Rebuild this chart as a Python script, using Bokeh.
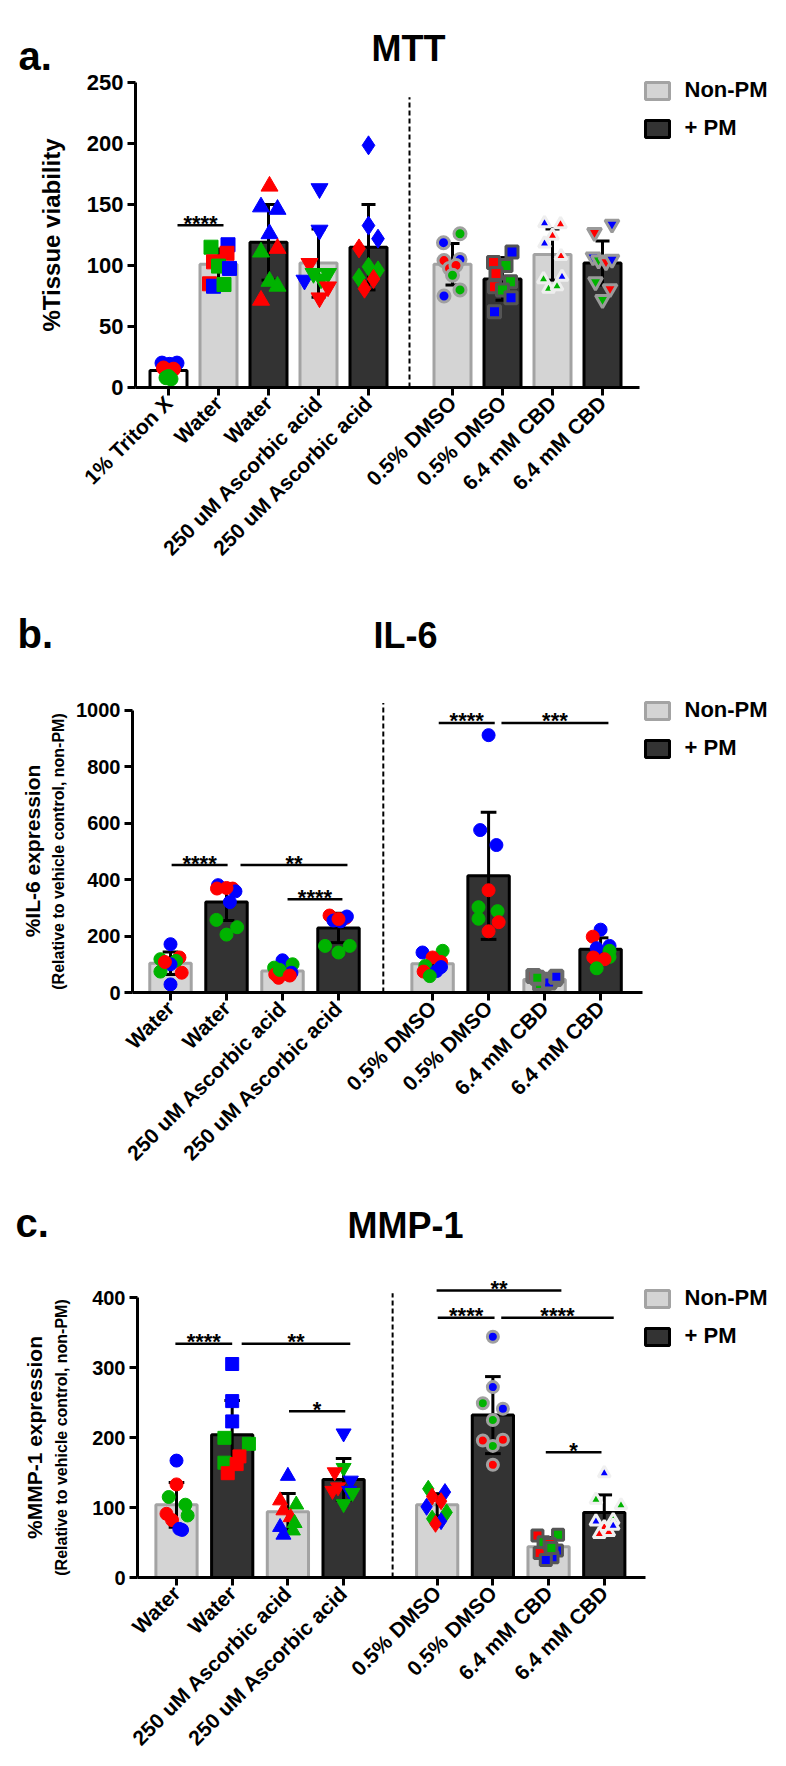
from math import pi
from bokeh.plotting import figure
from bokeh.models import (ColumnDataSource, FixedTicker, Label, Legend, LegendItem, Range1d)
from bokeh.layouts import column
from bokeh.embed import file_html
from bokeh.resources import INLINE
from bokeh.core.properties import value

FONT = "Liberation Sans"

# ====================== DATA ======================
# ---- Panel a: MTT (% tissue viability) ----
A_LABELS = ["1% Triton X", "Water", "Water", "250 uM Ascorbic acid", "250 uM Ascorbic acid",
            "0.5% DMSO", "0.5% DMSO", "6.4 mM CBD", "6.4 mM CBD"]
A_MEAN = [14, 101, 119, 102, 115, 101, 89, 109, 102]
A_SD = [5, 12.5, 31, 28, 35, 17, 17.5, 21, 18]
A_VALUES = [
    [20, 20, 19, 16, 15, 14, 9, 8, 7],
    [115, 103, 117, 110, 99.5, 97.6, 85, 83, 84.4],
    [165, 148, 146, 126, 114, 111, 87, 83, 71.5],
    [163, 129, 101.7, 88, 93.5, 93.5, 89, 82.5, 73.5],
    [198.5, 132.7, 122, 114, 99, 96, 90, 89, 81],
    [126, 118.7, 104, 105, 97.6, 100, 92, 80, 75],
    [111, 102.5, 100, 93.5, 86.6, 82.5, 80, 73.5, 62],
    [134.6, 133.8, 124.4, 118, 107.7, 88.8, 90.7, 81, 83],
    [133.8, 127, 107, 104.4, 103, 105, 86.6, 81, 72],
]
A_DONOR = ["bbbrrrggg", "grbrgbrbg", "rbbbrgggr", "bbrbgggrr", "bbbrgggrr",
           "gbrbrrggb", "brgrgrgbb", "brrbrgbgg", "brbgrbgrg"]
A_SIG = [(0.18, 1.10, 133, "****")]

# ---- Panel b: IL-6 ----
B_LABELS = ["Water", "Water", "250 uM Ascorbic acid", "250 uM Ascorbic acid",
            "0.5% DMSO", "0.5% DMSO", "6.4 mM CBD", "6.4 mM CBD"]
B_MEAN = [103.5, 320, 76, 228.5, 102, 413, 46, 153.5]
B_SD = [40, 65, 17, 52, 30, 225, 12, 40]
B_VALUES = [
    [171, 124, 118, 112, 100, 70, 74, 28.6, 108],
    [380, 368, 368, 358, 320, 257, 231, 205, 370],
    [114, 100, 88, 70, 64, 64, 52, 80, 60],
    [272.5, 264, 269, 254.7, 252, 165, 165, 141.6, 260],
    [147.6, 141.6, 124, 108, 94, 90, 74, 76, 58],
    [911, 575, 522, 362, 302, 288, 261, 249, 216.6],
    [58, 40, 25, 45, 30, 48, 35, 52, 56],
    [222.5, 197.5, 165, 157, 147.6, 126, 124, 118, 85.7],
]
B_DONOR = ["brggbrgbr", "brrbbgggr", "bggbrbrgr", "rrbbbgggr",
           "gbrrgbrbg", "bbbrgggrr", "rrrggbbgb", "brbbggrrg"]
B_SIG = [(0.02, 1.02, 451, "****"), (1.25, 3.16, 451, "**"), (2.09, 3.07, 330, "****"),
         (4.79, 5.79, 954, "****"), (5.91, 7.82, 954, "***")]

# ---- Panel c: MMP-1 ----
C_LABELS = B_LABELS
C_MEAN = [103.8, 204, 94, 140, 103.8, 232, 44, 93]
C_SD = [32, 49, 26, 30, 16, 55, 13, 25]
C_VALUES = [
    [167, 133, 115, 104, 88.6, 91, 82, 69.5, 68],
    [305, 252, 223, 199.5, 191, 173, 164, 162, 149],
    [145, 110, 104, 95.7, 86, 77.6, 72, 67, 61],
    [206, 156.7, 150.5, 138.6, 129, 124, 124, 121, 105],
    [126.7, 122, 115.7, 109, 101, 93, 84, 80.5, 76.7],
    [344, 272, 249, 241, 225, 195.7, 196.7, 188, 161],
    [61, 60, 50.5, 35, 38.6, 29, 48, 42, 25],
    [149, 111, 103, 80, 82, 72, 65, 74, 62],
]
C_DONOR = ["brgggrrbb", "bbbggrgrr", "brgrrgbgb", "bgrbrrbgg",
           "gbrrbggbr", "bbgbgrrgr", "grgrbbrgb", "bggbgrrbr"]
C_SIG = [(-0.02, 1.0, 334, "****"), (1.17, 3.12, 334, "**"), (2.02, 3.03, 237.6, "*"),
         (4.69, 5.71, 371, "****"), (5.83, 7.85, 371, "****"), (4.67, 6.91, 410, "**"),
         (6.63, 7.63, 179, "*")]

# ====================== STYLE / LAYOUT ======================
S = 25          # units per bar slot
GAP = 42        # distance between last left bar and first right bar
COLORS = {"r": "#ff0000", "g": "#00b300", "b": "#0000ff"}
BAR_STYLE = {
    "triton": dict(fill_color="#ffffff", line_color="#000000"),
    "light": dict(fill_color="#d4d4d4", line_color="#a3a3a3"),
    "dark": dict(fill_color="#333333", line_color="#000000"),
}
# horizontal jitter of the points (in bar slots)
A_JIT = [
    [-0.13, 0.17, 0.02, -0.1, 0.1, 0, 0, -0.05, 0.05],
    [-0.15, -0.1, 0.19, 0.17, 0, 0.22, -0.18, -0.1, 0.11],
    [0.02, -0.15, 0.18, 0.02, 0.18, -0.15, 0.02, 0.18, -0.15],
    [0.02, 0.02, -0.18, -0.28, -0.1, 0.19, 0.05, 0.19, 0.02],
    [0, 0, 0.19, -0.19, 0, 0.19, -0.19, 0.1, -0.08],
    [0.15, -0.18, -0.17, 0.15, -0.06, 0.07, 0, 0.15, -0.17],
    [0.19, -0.18, 0.07, -0.13, 0.16, -0.16, 0, 0.17, -0.16],
    [-0.16, 0.16, 0, -0.16, 0.17, -0.18, 0.19, -0.08, 0.09],
    [0.19, -0.16, -0.19, -0.08, 0.07, 0.19, -0.14, 0.15, 0],
]
B_JIT = [
    [0, 0.16, -0.18, 0.1, 0, 0.2, -0.18, 0, -0.1],
    [-0.15, -0.17, 0.11, 0.16, 0.06, -0.18, 0.19, 0, 0],
    [0, 0.18, -0.15, 0.16, -0.13, 0.1, -0.07, -0.05, 0.13],
    [-0.16, 0.13, 0.15, -0.09, 0.04, -0.24, 0.2, 0, 0],
    [0.18, -0.18, 0, 0.15, -0.13, 0.15, -0.16, 0.07, -0.05],
    [0, -0.15, 0.14, 0, -0.18, 0.16, -0.18, 0.18, 0],
    [-0.2, 0.05, -0.02, 0.12, -0.08, 0.18, 0.08, -0.13, 0.21],
    [0, -0.14, 0.16, -0.07, 0.16, 0.16, -0.13, 0.07, -0.07],
]
C_JIT = [
    [0, 0, -0.14, 0.16, 0.2, -0.18, -0.08, 0.05, 0.1],
    [0, 0, 0, -0.14, 0.3, 0.13, -0.14, 0.08, -0.08],
    [0, -0.14, 0.15, -0.08, 0.05, 0.12, -0.14, 0.09, -0.08],
    [0, 0, -0.16, 0.13, -0.1, -0.2, 0.1, 0.16, 0],
    [-0.16, 0.14, -0.09, 0.07, -0.19, 0.17, -0.09, 0.07, -0.03],
    [0, 0, -0.18, 0.18, 0, -0.18, 0.18, 0, 0],
    [0.17, -0.2, -0.09, -0.16, 0.15, 0.07, 0.02, 0.05, -0.05],
    [0, -0.15, 0.3, -0.15, 0.16, 0, 0.08, 0.16, -0.09],
]
# (marker, size, outline colour, outline width)
A_MARK = [("circle", 14, None, 0), ("square", 14, None, 0), ("triangle", 17, None, 0),
          ("inverted_triangle", 17, None, 0), ("diamond", 19, None, 0),
          ("circle", 12, "#a0a0a0", 3), ("square", 12, "#555555", 3),
          ("triangle", 12, "#eeeeee", 3), ("inverted_triangle", 14, "#9a9a9a", 3)]
B_MARK = [("circle", 13, None, 0)] * 6 + [("square", 12, "#6b6b6b", 4), ("circle", 13, None, 0)]
C_MARK = [("circle", 13, None, 0), ("square", 13, None, 0), ("triangle", 15, None, 0),
          ("inverted_triangle", 15, None, 0), ("diamond", 17, None, 0),
          ("circle", 11, "#a0a0a0", 3), ("square", 11, "#555555", 3),
          ("triangle", 12, "#f0f0f0", 3)]

WIDTH = 770


def positions(n_left, n_right):
    left = [i * S for i in range(n_left)]
    right = [left[-1] + GAP + i * S for i in range(n_right)]
    return left + right


def build(cfg):
    # The frame covers the whole canvas; both axes are pinned with fixed_location.
    px = cfg["slot_px"] / S
    xs = -cfg["first_px"] / px
    xe = xs + WIDTH / px
    axis_x = (cfg["axis_px"] - cfg["first_px"]) / px
    above = cfg["axis_py"] - cfg["canvas_top"]
    below = cfg["height"] - above
    ytop = above / cfg["y_px"]
    ybot = -below / cfg["y_px"]
    p = figure(width=WIDTH, height=cfg["height"], x_range=Range1d(xs, xe),
               y_range=Range1d(ybot, ytop), output_backend="svg", toolbar_location=None,
               min_border_left=0, min_border_right=0, min_border_top=0,
               min_border_bottom=0)
    p.outline_line_color = None
    p.xgrid.visible = False
    p.ygrid.visible = False
    p.background_fill_color = "white"
    p.border_fill_color = "white"

    pos = positions(*cfg["split"])
    kinds = cfg["kinds"]
    means, sds = cfg["mean"], cfg["sd"]

    # bars
    bar_r = {}
    for kind in ("triton", "light", "dark"):
        idx = [i for i, k in enumerate(kinds) if k == kind]
        if not idx:
            continue
        src = ColumnDataSource(dict(x=[pos[i] for i in idx], top=[means[i] for i in idx]))
        bar_r[kind] = p.vbar(x="x", top="top", bottom=0, width=0.74 * S, source=src,
                             line_width=3, **BAR_STYLE[kind])

    # dashed separator
    p.segment(x0=[cfg["dash_x"] * S], y0=[0], x1=[cfg["dash_x"] * S], y1=[cfg["dash_top"]],
              line_color="black", line_width=2, line_dash="5 3")

    # error bars (mean +/- SD)
    lo = [m - s for m, s in zip(means, sds)]
    hi = [m + s for m, s in zip(means, sds)]
    cap = 0.14 * S
    p.segment(x0=pos, y0=lo, x1=pos, y1=hi, line_color="black", line_width=3)
    p.segment(x0=[x - cap for x in pos], y0=hi, x1=[x + cap for x in pos], y1=hi,
              line_color="black", line_width=3)
    p.segment(x0=[x - cap for x in pos], y0=lo, x1=[x + cap for x in pos], y1=lo,
              line_color="black", line_width=3)

    # individual points
    for i, vals in enumerate(cfg["values"]):
        marker, size, oc, ow = cfg["mark"][i]
        src = ColumnDataSource(dict(
            x=[pos[i] + d * S for d in cfg["jit"][i]],
            y=vals,
            c=[COLORS[ch] for ch in cfg["donor"][i]]))
        if oc is None:
            p.scatter(x="x", y="y", source=src, marker=marker, size=size,
                      fill_color="c", line_color="c", line_width=1)
        else:
            p.scatter(x="x", y="y", source=src, marker=marker, size=size,
                      fill_color="c", line_color=oc, line_width=ow)

    # significance bars
    sig = cfg["sig"]
    p.segment(x0=[a * S for a, b, y, t in sig], y0=[y for a, b, y, t in sig],
              x1=[b * S for a, b, y, t in sig], y1=[y for a, b, y, t in sig],
              line_color="black", line_width=2.5)
    p.text(x=[(a + b) / 2 * S for a, b, y, t in sig], y=[y for a, b, y, t in sig],
           text=[t for a, b, y, t in sig], text_align="center", text_baseline="alphabetic",
           y_offset=-2, text_font=value(FONT), text_font_size="22px",
           text_font_style="bold", text_color="black")

    # axes
    ya = p.yaxis[0]
    ya.fixed_location = axis_x
    ya.ticker = FixedTicker(ticks=cfg["yticks"])
    ya.bounds = (0, cfg["yticks"][-1])
    xa = p.xaxis[0]
    xa.fixed_location = 0
    xa.ticker = FixedTicker(ticks=pos)
    xa.major_label_overrides = {x: lab for x, lab in zip(pos, cfg["labels"])}
    xa.major_label_orientation = pi / 4
    xa.bounds = (axis_x, pos[-1] + 0.74 * S)
    for ax in (xa, ya):
        ax.axis_line_width = 3
        ax.axis_line_color = "black"
        ax.major_tick_line_width = 3
        ax.major_tick_line_color = "black"
        ax.major_tick_out = 8
        ax.major_tick_in = 0
        ax.minor_tick_line_color = None
        ax.major_label_text_font = FONT
        ax.major_label_text_font_style = "bold"
        ax.major_label_text_color = "black"
        ax.major_label_standoff = 4
    ya.major_label_text_font_size = cfg["ytick_size"]
    xa.major_label_text_font_size = "21px"
    ya.axis_label = cfg["ylabel"]
    ya.axis_label_text_font = FONT
    ya.axis_label_text_font_style = "bold"
    ya.axis_label_text_color = "black"
    ya.axis_label_text_font_size = cfg["ylabel_size"]
    ya.axis_label_standoff = cfg["ylabel_standoff"]

    # screen coordinates are measured from the frame's bottom-left = canvas bottom-left
    cb = cfg["canvas_top"] + cfg["height"]
    if cfg.get("ylabel2"):
        p.add_layout(Label(x=cfg["ylabel2_x"], y=cb - (cfg["axis_py"] + cfg["top_tick_py"]) / 2,
                           x_units="screen", y_units="screen", text=cfg["ylabel2"],
                           angle=pi / 2, text_align="center", text_baseline="middle",
                           text_font=FONT, text_font_size="21px", text_font_style="bold",
                           text_color="black"))

    # legend (uses the bar renderers as glyphs)
    leg_h = 62
    lx = 641.5
    ly = cb - cfg["legend_top"] - leg_h
    legend = Legend(items=[LegendItem(label="Non-PM", renderers=[bar_r["light"]]),
                           LegendItem(label="+ PM", renderers=[bar_r["dark"]])],
                    location=(lx, ly), orientation="vertical", glyph_width=30,
                    glyph_height=21, label_height=21, label_standoff=13, spacing=12,
                    padding=0, margin=0, border_line_color=None, background_fill_alpha=0,
                    label_text_font=FONT, label_text_font_size="22px",
                    label_text_font_style="bold", label_text_color="black")
    p.add_layout(legend)

    # panel letter and title
    for txt, xpg, base, size, align in cfg["titles"]:
        p.add_layout(Label(x=xpg, y=cb - base, x_units="screen", y_units="screen",
                           text=txt, text_font=FONT, text_font_size=size,
                           text_font_style="bold", text_color="black", text_align=align,
                           text_baseline="alphabetic"))
    return p


cfg_a = dict(height=580, canvas_top=0, axis_py=387, axis_px=135, top_tick_py=83,
             first_px=168, slot_px=50, y_px=1.22, split=(5, 4),
             kinds=["triton", "light", "dark", "light", "dark", "light", "dark", "light", "dark"],
             mean=A_MEAN, sd=A_SD, values=A_VALUES, donor=A_DONOR, jit=A_JIT, mark=A_MARK,
             sig=A_SIG, labels=A_LABELS, yticks=[0, 50, 100, 150, 200, 250],
             ytick_size="22px", dash_x=4.82, dash_top=238, ylabel="%Tissue viability",
             ylabel_size="24px", ylabel_standoff=19, legend_top=79.4,
             titles=[("a.", 18, 55, "40px", "left"), ("MTT", 408, 48, "36px", "center")])

cfg_b = dict(height=600, canvas_top=580, axis_py=992, axis_px=132, top_tick_py=709,
             first_px=170, slot_px=56, y_px=0.2825, split=(4, 4),
             kinds=["light", "dark"] * 4,
             mean=B_MEAN, sd=B_SD, values=B_VALUES, donor=B_DONOR, jit=B_JIT, mark=B_MARK,
             sig=B_SIG, labels=B_LABELS, yticks=[0, 200, 400, 600, 800, 1000],
             ytick_size="20px", dash_x=3.80, dash_top=1025,
             ylabel="(Relative to vehicle control, non-PM)", ylabel_size="16px",
             ylabel_standoff=6, ylabel2="%IL-6 expression", ylabel2_x=32,
             legend_top=699.4,
             titles=[("b.", 17, 633, "40px", "left"), ("IL-6", 405, 635, "36px", "center")])

cfg_c = dict(height=578, canvas_top=1180, axis_py=1577, axis_px=137, top_tick_py=1297,
             first_px=176, slot_px=55.7, y_px=0.7, split=(4, 4),
             kinds=["light", "dark"] * 4,
             mean=C_MEAN, sd=C_SD, values=C_VALUES, donor=C_DONOR, jit=C_JIT, mark=C_MARK,
             sig=C_SIG, labels=C_LABELS, yticks=[0, 100, 200, 300, 400],
             ytick_size="20px", dash_x=3.88, dash_top=406,
             ylabel="(Relative to vehicle control, non-PM)", ylabel_size="16px",
             ylabel_standoff=19, ylabel2="%MMP-1 expression", ylabel2_x=34,
             legend_top=1287.4,
             titles=[("c.", 15, 1222, "40px", "left"), ("MMP-1", 405, 1225, "36px", "center")])

pa = build(cfg_a)
pb = build(cfg_b)
pc = build(cfg_c)

layout = column(pa, pb, pc, spacing=0)
open("out.html", "w").write(file_html(layout, INLINE))
